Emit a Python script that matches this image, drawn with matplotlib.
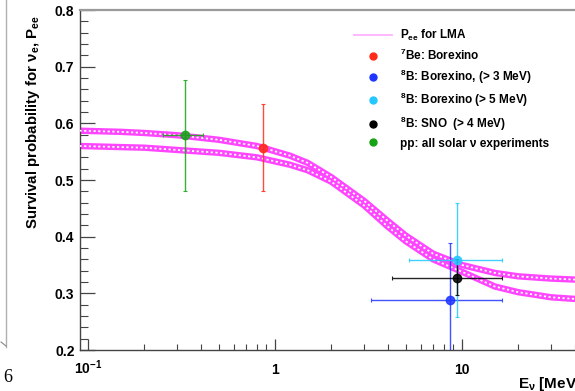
import matplotlib
matplotlib.use("Agg")
from matplotlib import pyplot as plt
from matplotlib.lines import Line2D
from matplotlib.ticker import FixedLocator, FixedFormatter, MultipleLocator

plt.rcParams['font.family'] = ['Liberation Sans', 'DejaVu Sans']
plt.rcParams['mathtext.fontset'] = 'custom'
plt.rcParams['mathtext.rm'] = 'Liberation Sans:bold'
plt.rcParams['mathtext.it'] = 'Liberation Sans:bold'

# LMA survival probability bands (two curves)
E_upper = [0.09, 0.15, 0.2, 0.3, 0.5, 0.8, 1.2, 1.5, 2, 3, 4, 5, 7, 10, 15, 20, 30, 50, 100]
P_upper = [0.587, 0.585, 0.583, 0.579, 0.571, 0.560, 0.543, 0.530, 0.505, 0.463, 0.428, 0.402,
           0.370, 0.350, 0.336, 0.330, 0.326, 0.323, 0.322]
E_lower = [0.09, 0.2, 0.3, 0.5, 0.8, 1.2, 1.5, 2, 3, 4, 5, 7, 10, 15, 20, 30, 50, 100]
P_lower = [0.560, 0.557, 0.553, 0.548, 0.540, 0.527, 0.517, 0.497, 0.455, 0.418, 0.392, 0.360,
           0.338, 0.312, 0.302, 0.293, 0.288, 0.286]

# measurements
labels = ["$^7$Be: Borexino", "$^8$B: Borexino, (> 3 MeV)", "$^8$B: Borexino (> 5 MeV)",
          "$^8$B: SNO  (> 4 MeV)", "pp: all solar ν experiments"]
colors = ["#ff2a1a", "#1f35ff", "#22c8ff", "#000000", "#17a317"]
E_pts = [0.86, 8.6, 9.4, 9.4, 0.33]
P_pts = [0.557, 0.289, 0.358, 0.327, 0.579]
E_lo = [0.86, 3.26, 5.2, 4.2, 0.252]
E_hi = [0.86, 16.4, 16.4, 16.4, 0.41]
P_lo = [0.480, 0.189, 0.258, 0.297, 0.480]
P_hi = [0.635, 0.389, 0.460, 0.360, 0.676]

W, H = 575, 391
fig = plt.figure(figsize=(W / 100, H / 100), dpi=100)
ax = fig.add_axes([80 / W, 1 - 350 / H, (649 - 80) / W, 340 / H])

# hatched-looking bands
for E, P in [(E_upper, P_upper), (E_lower, P_lower)]:
    ax.plot(E, P, color="#ff45ff", lw=4.6, solid_capstyle="butt", zorder=2)
    ax.plot(E, P, color="white", lw=1.3, dashes=(1.2, 1.4), zorder=3)

for i in range(len(E_pts)):
    ax.errorbar(E_pts[i], P_pts[i],
                xerr=[[E_pts[i] - E_lo[i]], [E_hi[i] - E_pts[i]]],
                yerr=[[P_pts[i] - P_lo[i]], [P_hi[i] - P_pts[i]]],
                fmt="o", color=colors[i], ecolor=colors[i], elinewidth=1.0, alpha=0.85,
                ms=6, capsize=1.5, capthick=0.8, zorder=4)

ax.set_xscale("log")
ax.set_xlim(10 ** ((80 - 275) / 187), 100)
ax.set_ylim(0.2, 0.8)

ax.xaxis.set_major_locator(FixedLocator([0.1, 1, 10]))
ax.xaxis.set_major_formatter(FixedFormatter(["10$^{-1}$", "1", "10"]))
ax.xaxis.set_minor_locator(FixedLocator([m * d for d in (0.1, 1, 10) for m in range(2, 10)]))
ax.xaxis.set_minor_formatter(FixedFormatter([]))
ax.yaxis.set_major_locator(MultipleLocator(0.1))
ax.yaxis.set_minor_locator(MultipleLocator(0.02))
ax.yaxis.set_major_formatter(plt.FuncFormatter(lambda v, p: "%.1f" % v))

ax.tick_params(which="both", direction="in", top=False, right=False, colors="#444444",
               labelcolor="black", labelsize=10)
ax.tick_params(axis="y", which="major", length=11, width=0.9, pad=4)
ax.tick_params(axis="y", which="minor", length=5.5, width=0.8)
ax.tick_params(axis="x", which="major", length=8, width=0.9, pad=17)
ax.tick_params(axis="x", which="minor", length=4, width=0.8)
for lbl in ax.get_xticklabels() + ax.get_yticklabels():
    lbl.set_fontweight("bold")
for lbl in ax.get_xticklabels():
    lbl.set_va("baseline")

for s in ["left", "bottom"]:
    ax.spines[s].set_color("#444444")
    ax.spines[s].set_linewidth(1.0)
ax.spines["top"].set_color("#9a9a9a")
ax.spines["top"].set_linewidth(1.6)
ax.spines["right"].set_visible(False)

fig.text(33 / W, 1 - 15 / H, "Survival probability for ν$_\\mathrm{e}$, P$_\\mathrm{ee}$",
         rotation=90, ha="center", va="top", fontsize=10.8, fontweight="bold")
fig.text(518 / W, 1 - 388 / H, "E$_\\mathrm{ν}$ [MeV]", ha="left", va="baseline",
         fontsize=11, fontweight="bold")

handles = [Line2D([], [], color="#ffb3ff", lw=1.3)]
handles += [Line2D([], [], ls="none", marker="o", color=c, ms=5) for c in colors]
fig.legend(handles, ["P$_\\mathrm{ee}$ for LMA"] + labels, loc="upper left",
           bbox_to_anchor=(348 / W, 1 - 22 / H), frameon=False,
           prop={"size": 8.5, "weight": "bold"},
           borderpad=0, handlelength=3.2, handletextpad=0.7, labelspacing=0.42)

# remnant of the neighbouring panel on the left
fig.add_artist(Line2D([6 / W, 6 / W], [1, 1 - 347 / H], transform=fig.transFigure,
                      color="#b0b0b0", lw=1))
fig.add_artist(Line2D([1 / W, 6 / W], [1 - 342 / H, 1 - 346 / H], transform=fig.transFigure,
                      color="#888888", lw=0.8))
fig.text(8 / W, 1 - 377 / H, "6", family="Liberation Serif", fontsize=13, ha="center", va="center")

plt.savefig("out.png", dpi=100)
